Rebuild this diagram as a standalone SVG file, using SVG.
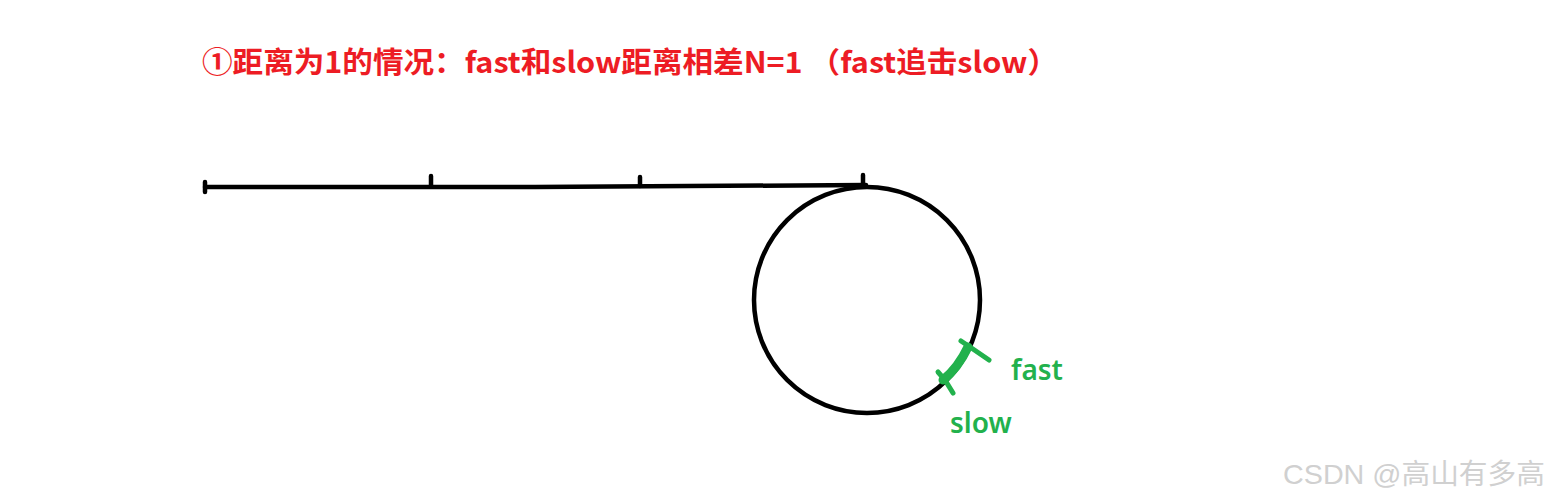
<svg xmlns="http://www.w3.org/2000/svg" width="1550" height="500" viewBox="0 0 1550 500">
<style>
.title{font-family:"Noto Sans CJK SC","Microsoft YaHei",sans-serif;font-weight:bold;font-size:29px;fill:#ed1c24}
.lbl{font-family:"Noto Sans","Open Sans",sans-serif;font-weight:600;font-size:28px;fill:#22b14c}
.blk{stroke:#000;stroke-width:4.5;fill:none;stroke-linecap:round}
.grn{stroke:#22b14c;fill:none;stroke-linecap:round}
.wm{font-family:"Liberation Sans","Noto Sans CJK SC",sans-serif;font-size:28px;fill:#d0d0d0}
</style>
<rect width="1550" height="500" fill="#fff"/>
<g id="title"><text class="title" x="202" y="73" textLength="856" lengthAdjust="spacingAndGlyphs">①距离为1的情况：fast和slow距离相差N=1 （fast追击slow）</text></g>
<g id="line">
<path class="blk" d="M205 187 L535 187 L866 185"/>
<path class="blk" d="M205 182 V192 M431 176 V186 M640 177 V186 M863 175 V186"/>
</g>
<g id="circle"><circle class="blk" cx="867" cy="300" r="113"/></g>
<g id="marks">
<path class="grn" stroke-width="9" d="M943 380 Q958 368 968 347"/>
<path class="grn" stroke-width="5" d="M961 341 L970 347 L989 360 M938 372 L945 380 L953 393"/>
</g>
<g id="labels">
<text class="lbl" x="1011" y="380">fast</text>
<text class="lbl" x="950" y="433">slow</text>
</g>
<text class="wm" x="1283" y="484" textLength="262" lengthAdjust="spacingAndGlyphs">CSDN @高山有多高</text>
</svg>
